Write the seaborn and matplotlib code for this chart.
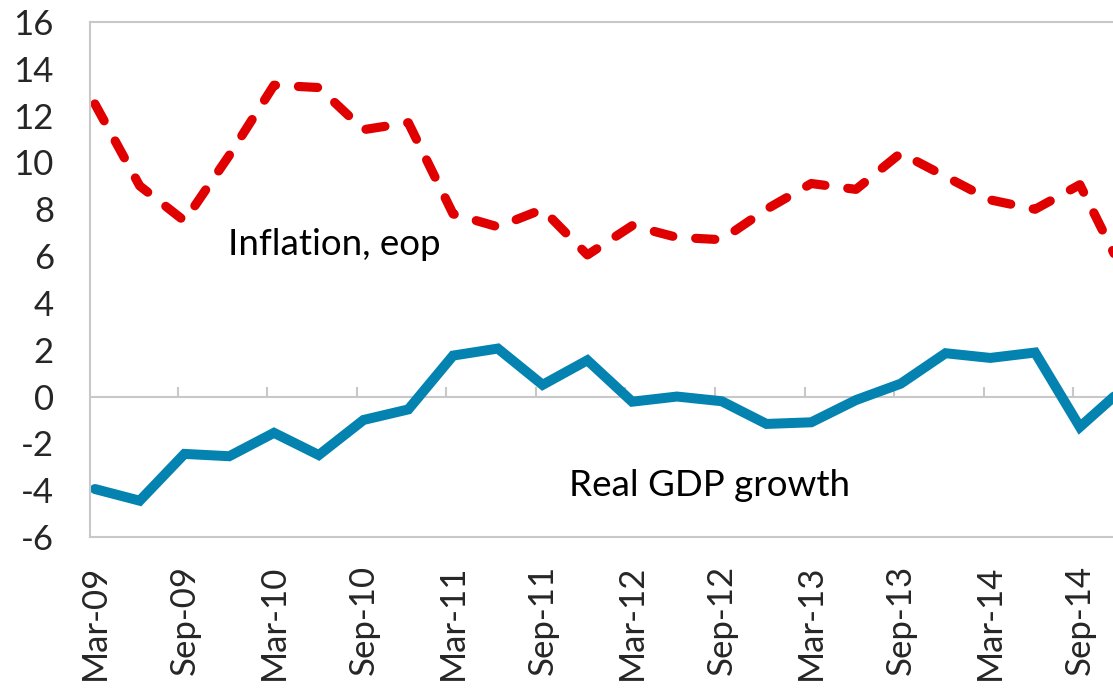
import numpy as np
import pandas as pd
import matplotlib
matplotlib.use("Agg")
import matplotlib.pyplot as plt
import seaborn as sns

# Quarterly data, Mar-09 .. Dec-14
quarters = ['Mar-09', 'Jun-09', 'Sep-09', 'Dec-09', 'Mar-10', 'Jun-10', 'Sep-10', 'Dec-10',
            'Mar-11', 'Jun-11', 'Sep-11', 'Dec-11', 'Mar-12', 'Jun-12', 'Sep-12', 'Dec-12',
            'Mar-13', 'Jun-13', 'Sep-13', 'Dec-13', 'Mar-14', 'Jun-14', 'Sep-14', 'Dec-14']
inflation = [12.5, 9.0, 7.5, 10.3, 13.3, 13.2, 11.4, 11.7,
             7.8, 7.25, 8.0, 6.05, 7.3, 6.8, 6.7, 8.0,
             9.1, 8.85, 10.4, 9.4, 8.4, 8.0, 9.05, 5.2]
gdp_growth = [-3.95, -4.45, -2.45, -2.55, -1.55, -2.5, -1.0, -0.55,
              1.75, 2.05, 0.5, 1.55, -0.22, 0.0, -0.2, -1.17,
              -1.1, -0.15, 0.55, 1.85, 1.65, 1.88, -1.3, 0.4]
tick_labels = quarters[::2]
y_ticks = list(range(-6, 17, 2))

df = pd.DataFrame({'idx': np.arange(len(quarters)),
                   'inflation': inflation,
                   'gdp': gdp_growth})

sns.set_style('white')
plt.rcParams['font.family'] = ['Lato', 'DejaVu Sans']

RED = '#E00000'
BLUE = '#0483B0'
GRAY = '#C8C8C8'

fig = plt.figure(figsize=(11.13, 6.88), dpi=100)
ax = fig.add_axes([90 / 1113, 1 - 537 / 688, 1057 / 1113, (537 - 22) / 688])

sns.lineplot(data=df, x='idx', y='inflation', ax=ax, color=RED, linewidth=6.6)
ax.lines[-1].set_dashes((2.1, 2.5))
ax.lines[-1].set_dash_capstyle('round')
sns.lineplot(data=df, x='idx', y='gdp', ax=ax, color=BLUE, linewidth=7.2)
ax.lines[-1].set_solid_joinstyle('miter')

ax.set_xlim(-0.11, 23.5)
ax.set_ylim(-6, 16)

# horizontal axis crossing at zero, tick marks pointing up
ax.axhline(0, color=GRAY, linewidth=1.5, zorder=1)
major = np.arange(0, len(quarters), 2)
ax.vlines(major[1:] - 0.15, 0, 0.4, color=GRAY, linewidth=1.5, zorder=1)

ax.set_xticks(major)
ax.set_xticklabels(tick_labels, rotation=90, fontsize=25)
ax.tick_params(axis='x', length=0, pad=20)
ax.set_yticks(y_ticks)
ax.set_yticklabels([str(v) for v in y_ticks], fontsize=25)
ax.tick_params(axis='y', direction='in', length=9.5, width=1.5, color=GRAY, pad=26)
ax.set_xlabel('')
ax.set_ylabel('')

for side in ['left', 'top', 'bottom', 'right']:
    ax.spines[side].set_color(GRAY)
    ax.spines[side].set_linewidth(1.5)
    ax.spines[side].set_visible(True)

ax.text(2.97, 6.5, 'Inflation, eop', fontsize=26.5, ha='left', va='center', color='black')
ax.text(10.6, -3.8, 'Real GDP growth', fontsize=26.5, ha='left', va='center', color='black')

fig.savefig('out.png', dpi=100, facecolor='white')
